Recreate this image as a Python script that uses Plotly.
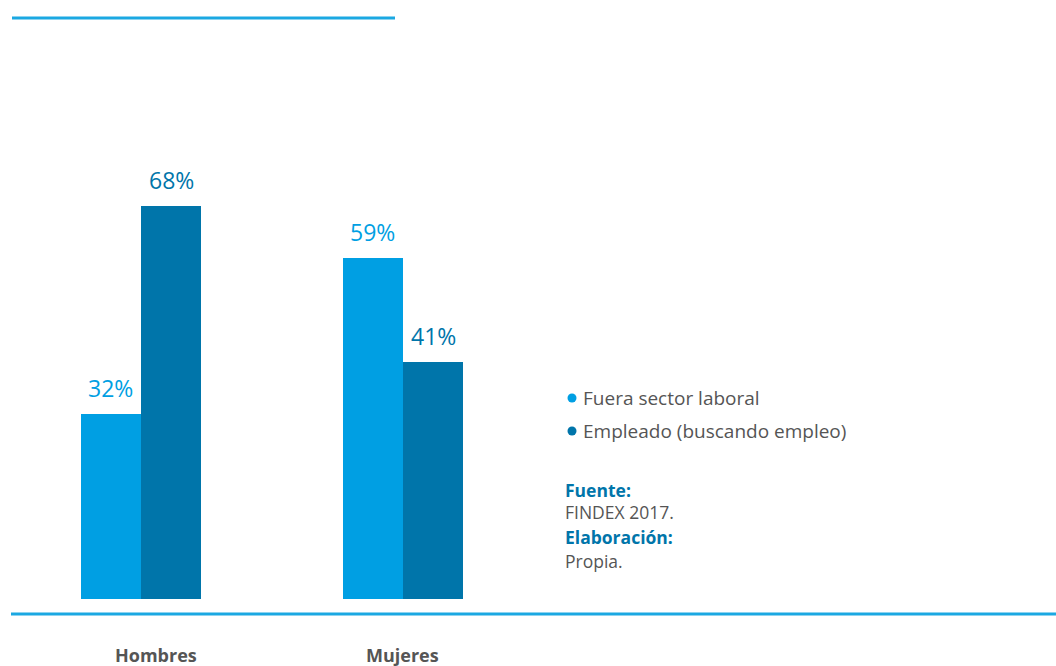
import plotly.graph_objects as go

categories = ["Hombres", "Mujeres"]
fuera_sector = [32, 59]
empleado = [68, 41]
series_names = ["Fuera sector laboral", "Empleado (buscando empleo)"]

LIGHT = "#009FE3"
DARK = "#0075AA"
GRAY = "#555555"
FONT = "Open Sans"

W, H = 1056, 666
ML, MR, MT, MB = 10, 0, 21, 67
PW, PH = W - ML - MR, H - MT - MB


def px(x):
    return (x - ML) / PW


def py(y):
    return (H - MB - y) / PH


fig = go.Figure()
fig.add_trace(go.Bar(x=categories, y=fuera_sector, name=series_names[0],
                     marker_color=LIGHT, marker_line_width=0, showlegend=False))
fig.add_trace(go.Bar(x=categories, y=empleado, name=series_names[1],
                     marker_color=DARK, marker_line_width=0, showlegend=False))

annotations = []
# value labels above each bar
for i, cat in enumerate(categories):
    for vals, col, off in ((fuera_sector, LIGHT, -0.115), (empleado, DARK, 0.115)):
        annotations.append(dict(
            x=i + off, y=vals[i], xref="x", yref="y", text=f"{vals[i]}%",
            showarrow=False, yanchor="bottom", yshift=8,
            font=dict(family=FONT, size=23, color=col)))

# category labels below the baseline
cat_x = [156, 402]
for cat, cx in zip(categories, cat_x):
    annotations.append(dict(
        x=px(cx), y=py(655), xref="paper", yref="paper", text=f"<b>{cat}</b>",
        showarrow=False, xanchor="center", yanchor="middle",
        font=dict(family=FONT, size=18, color=GRAY)))

shapes = [
    dict(type="line", xref="paper", yref="paper", x0=px(12), x1=px(395),
         y0=py(18), y1=py(18), line=dict(color="#1BA8E2", width=3)),
    dict(type="line", xref="paper", yref="paper", x0=px(11), x1=px(1056),
         y0=py(614), y1=py(614), line=dict(color="#1BA8E2", width=3)),
]

# legend entries: dot marker + label
for name, col, ly in ((series_names[0], LIGHT, 398), (series_names[1], DARK, 431)):
    shapes.append(dict(
        type="circle", xref="paper", yref="paper",
        xsizemode="pixel", ysizemode="pixel",
        xanchor=px(572), yanchor=py(ly), x0=-4.5, x1=4.5, y0=-4.5, y1=4.5,
        fillcolor=col, line=dict(width=0)))
    annotations.append(dict(
        x=px(581), y=py(ly), xref="paper", yref="paper", text=name,
        showarrow=False, xanchor="left", yanchor="middle",
        font=dict(family=FONT, size=19, color=GRAY)))

# source notes
notes = [("<b>Fuente:</b>", DARK, 490), ("FINDEX 2017.", GRAY, 512),
         ("<b>Elaboración:</b>", DARK, 537), ("Propia.", GRAY, 561)]
for txt, col, ny in notes:
    annotations.append(dict(
        x=px(563), y=py(ny), xref="paper", yref="paper", text=txt,
        showarrow=False, xanchor="left", yanchor="middle",
        font=dict(family=FONT, size=17.5, color=col)))

fig.update_layout(
    width=W, height=H,
    margin=dict(l=ML, r=MR, t=MT, b=MB),
    paper_bgcolor="white", plot_bgcolor="white",
    barmode="group", bargap=0.542, bargroupgap=0,
    xaxis=dict(range=[-0.5, -0.5 + PW / 262], showticklabels=False,
               showgrid=False, zeroline=False, showline=False, ticks=""),
    yaxis=dict(range=[0, 100], visible=False),
    annotations=annotations, shapes=shapes,
    font=dict(family=FONT),
)

fig.write_html("out.html")
